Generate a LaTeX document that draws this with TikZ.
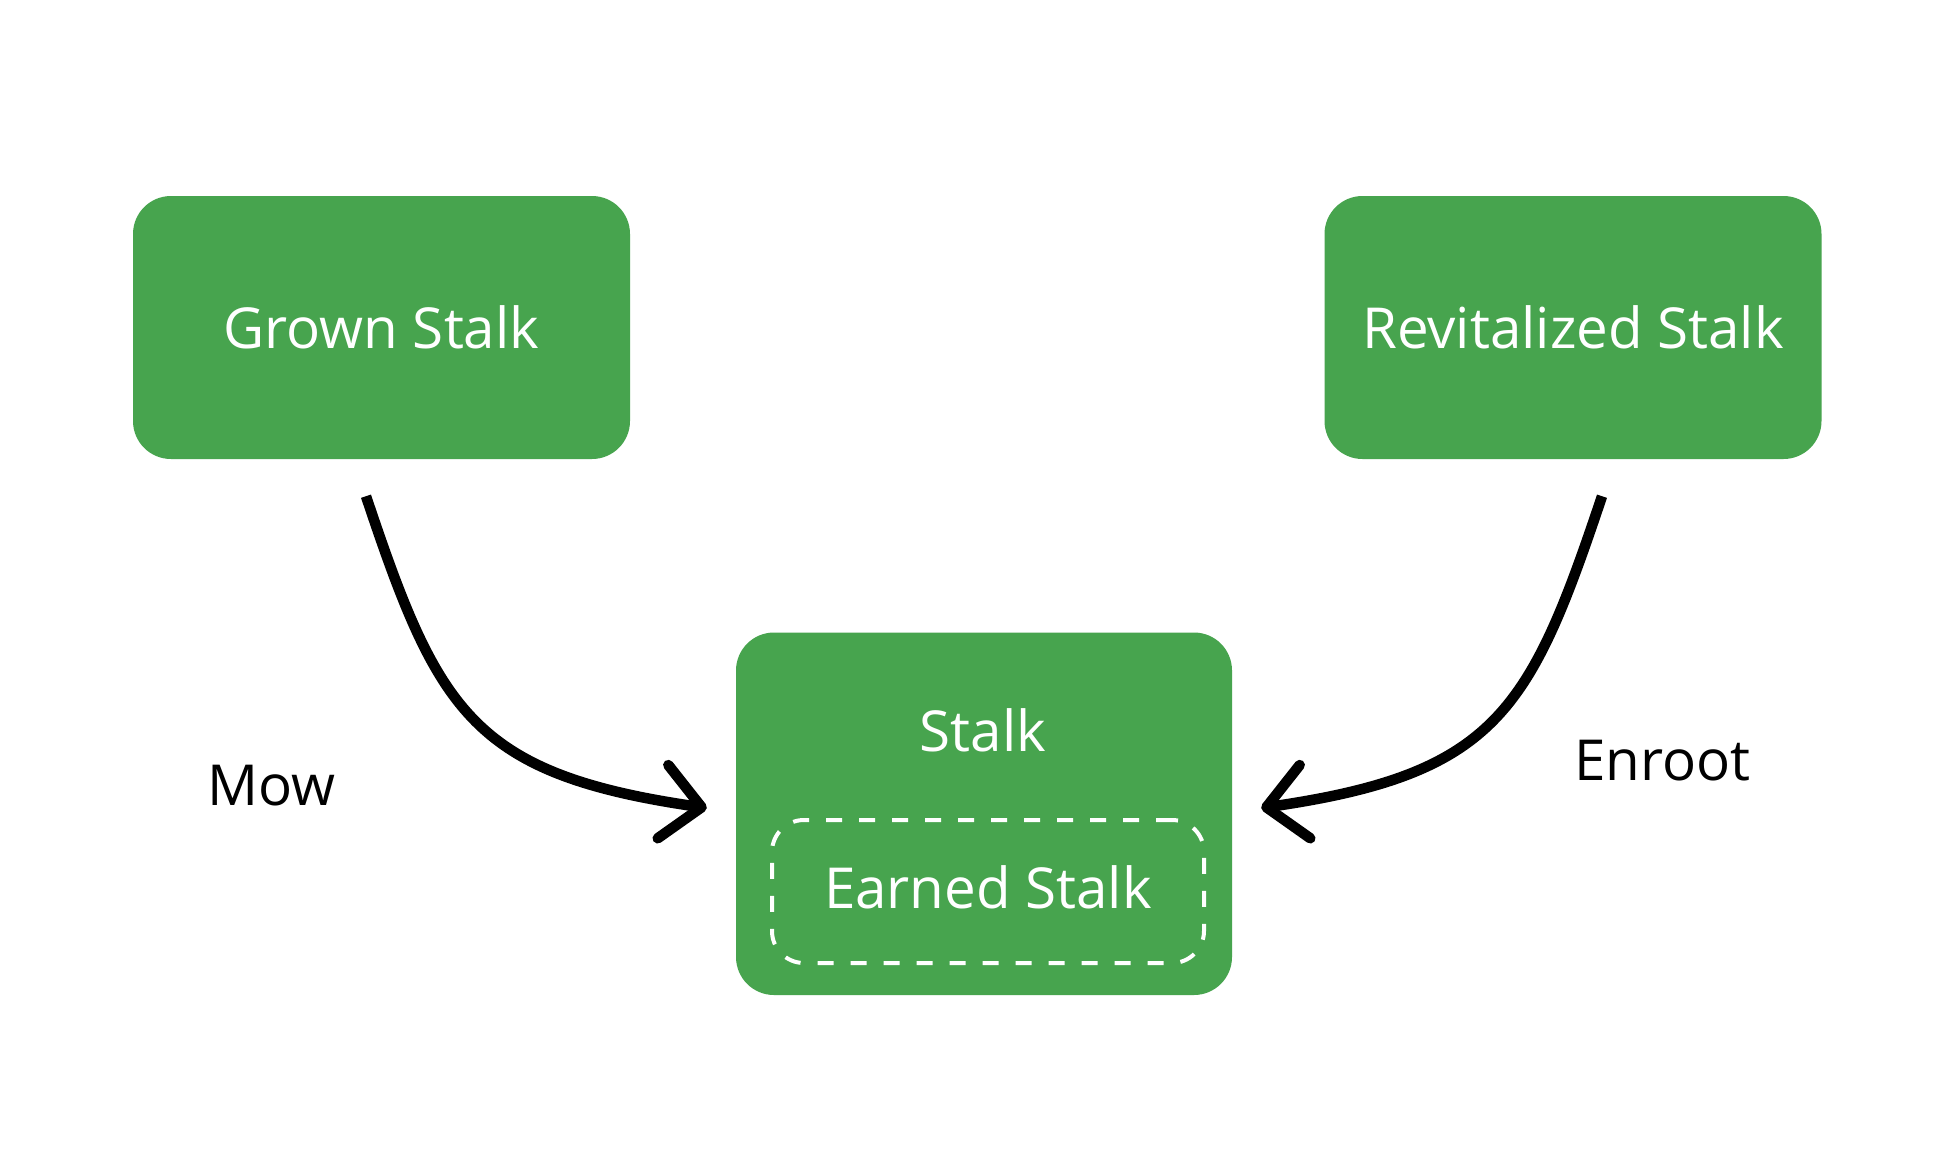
\documentclass[tikz,border=0pt]{standalone}
\usepackage{fontspec}
\setmainfont{Open Sans}
\usetikzlibrary{arrows.meta,calc}
\definecolor{boxgreen}{RGB}{71,164,78}
\begin{document}
\begin{tikzpicture}[x=1pt,y=-1pt,
  txt/.style={font=\fontsize{56.5}{62}\selectfont},
  box/.style={txt,fill=boxgreen,rounded corners=38pt,minimum width=497pt,
    minimum height=263pt,inner sep=0pt,text=white,text height=41pt,text depth=0pt},
  bigbox/.style={fill=boxgreen,rounded corners=38pt,minimum width=496pt,
    minimum height=362.5pt,inner sep=0pt},
  innerbox/.style={txt,draw=white,line width=4pt,dash pattern=on 16pt off 17pt,
    rounded corners=32pt,minimum width=432pt,minimum height=143pt,inner sep=0pt,
    text=white,text height=41pt,text depth=7pt},
  lbl/.style={txt,anchor=base,inner sep=0pt},
  conn/.style={line width=10.5pt,
    -{Straight Barb[length=39pt,width=74pt,line cap=round,line join=round]}}]
\fill[white] (0,0) rectangle (1960,1168);
\useasboundingbox (0,0) rectangle (1960,1168);

\node[box] (grown) at (381.5,327.5) {Grown Stalk};
\node[box] (revit) at (1573,327.5) {Revitalized Stalk};
\node[bigbox] (stalk) at (984,813.75) {};
\node[lbl,text=white] (stalklbl) at (983,751) {Stalk};
\node[innerbox] (earned) at (988,891.5) {Earned Stalk};

\node[lbl] (mow) at (271.5,805) {Mow};
\node[lbl] (enroot) at (1662.5,780) {Enroot};

\coordinate (gs) at ($(grown.south)+(-15.5,37)$);
\coordinate (ge) at ($(stalk.west)+(-29,-5.75)$);
\coordinate (rs) at ($(revit.south)+(29,37)$);
\coordinate (re) at ($(stalk.east)+(29,-5.75)$);

\draw[conn] (gs) .. controls +(72,215) and +(-235,-34) .. (ge);
\draw[conn] (rs) .. controls +(-72,215) and +(235,-34) .. (re);
\end{tikzpicture}
\end{document}
